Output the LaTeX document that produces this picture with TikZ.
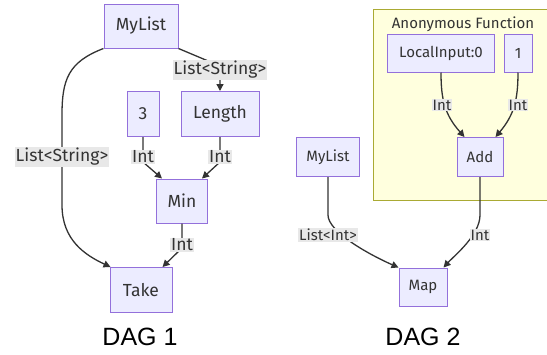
\documentclass[tikz,border=0pt]{standalone}
\usepackage{fontspec}
\setmainfont{Fira Sans}
\newfontfamily\arialfont{Liberation Sans}
\usetikzlibrary{arrows.meta}
\definecolor{nodefill}{HTML}{ECECFF}
\definecolor{nodeline}{HTML}{9370DB}
\definecolor{edgecol}{HTML}{333333}
\definecolor{labbg}{HTML}{E8E8E8}
\definecolor{clfill}{HTML}{FFFFDE}
\definecolor{clline}{HTML}{AAAA33}
\tikzset{
  box/.style={draw=nodeline, fill=nodefill, line width=1pt, inner sep=0pt, text=edgecol},
  boxA/.style={box, font=\fontsize{17.5}{20}\selectfont},
  boxB/.style={box, font=\fontsize{15}{17}\selectfont},
  elab/.style={fill=labbg, inner sep=1pt, text=edgecol},
  elabA/.style={elab, font=\fontsize{17.5}{20}\selectfont},
  elabB/.style={elab, font=\fontsize{15}{17}\selectfont},
  conn/.style={draw=edgecol, line width=1.3pt},
  arr/.style={conn, -{Triangle[length=7pt,width=7pt]}},
  title/.style={font=\arialfont\fontsize{25}{28}\selectfont}
}
\begin{document}
\begin{tikzpicture}[x=1pt,y=-1pt]
\useasboundingbox (0,0) rectangle (547,354);
% cluster
\fill[clfill] (373,9) rectangle (547,200);
\draw[clline, line width=1pt] (547,9) -- (373,9) -- (373,200) -- (547,200);
\node[font=\fontsize{15}{17}\selectfont, text=edgecol] (cl) at (463,24) {Anonymous Function};

% DAG 1 nodes
\node[boxA, minimum width=74pt, minimum height=44pt] (ml1) at (141,26) {MyList};
\node[boxA, minimum width=32pt, minimum height=45pt] (three) at (143,114) {3};
\node[boxA, minimum width=78pt, minimum height=45pt] (len) at (220,114) {Length};
\node[boxA, minimum width=51pt, minimum height=44pt] (min) at (182,201) {Min};
\node[boxA, minimum width=62pt, minimum height=45pt] (take) at (141,290) {Take};
\node[title] (d1) at (140,337) {DAG 1};

% DAG 1 edges
\draw[arr] (ml1.south west) .. controls (68,62) and (62,80) .. (62,115) -- (62,205) .. controls (62,240) and (85,255) .. ([xshift=1pt]take.north west);
\draw[arr] (ml1.south east) -- (220,66) -- (len.north);
\draw[arr] (three.south) -- (143,162) -- ([xshift=6pt]min.north west);
\draw[arr] (len.south) -- (220,162) -- ([xshift=-6pt]min.north east);
\draw[arr] (min.south) -- (182,248) -- ([xshift=-10pt]take.north east);

% DAG 1 labels
\node[elabA] (l1) at (62,157) {List<String>};
\node[elabA] (l2) at (220,70) {List<String>};
\node[elabA] (l3) at (143,157) {Int};
\node[elabA] (l4) at (220,157) {Int};
\node[elabA] (l5) at (182,245) {Int};

% DAG 2 nodes
\node[boxB, minimum width=107pt, minimum height=38pt] (loc) at (441,53) {LocalInput:0};
\node[boxB, minimum width=28pt, minimum height=38pt] (one) at (518,53) {1};
\node[boxB, minimum width=46pt, minimum height=39pt] (add) at (480,157) {Add};
\node[boxB, minimum width=63pt, minimum height=39pt] (ml2) at (328,157) {MyList};
\node[boxB, minimum width=48pt, minimum height=38pt] (map) at (423,287) {Map};
\node[title] (d2) at (423,337) {DAG 2};

% DAG 2 edges
\draw[arr] (loc.south) .. controls (441,100) and (445,115) .. ([xshift=8pt]add.north west);
\draw[arr] (one.south) .. controls (518,100) and (514,115) .. ([xshift=-8pt]add.north east);
\draw[arr] (ml2.south) -- (328,215) .. controls (328,232) and (370,255) .. ([xshift=0pt]map.north west);
\draw[arr] (add.south) -- (480,215) .. controls (480,235) and (455,255) .. ([xshift=-4pt]map.north east);

% DAG 2 labels
\node[elabB] (l6) at (442,105) {Int};
\node[elabB] (l7) at (518,105) {Int};
\node[elabB] (l8) at (328,235) {List<Int>};
\node[elabB] (l9) at (480,235) {Int};
\end{tikzpicture}
\end{document}
